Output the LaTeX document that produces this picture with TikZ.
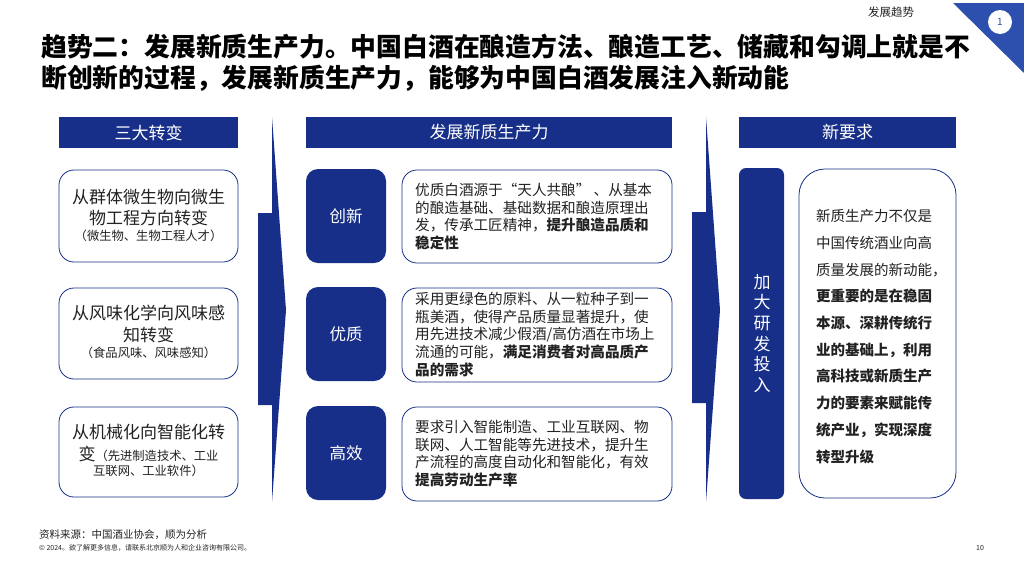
\documentclass[tikz,border=0pt]{standalone}
\usepackage{fontspec}
\setmainfont{Noto Sans CJK SC}
\definecolor{navy}{HTML}{172F88}
\definecolor{tri}{HTML}{2D4FAD}
\definecolor{txt}{HTML}{222222}
\tikzset{
  hdr/.style={fill=navy, text=white, minimum height=31pt, inner sep=0pt, font=\fontsize{17}{20}\selectfont},
  wbox/.style={draw=navy, line width=0.8pt, fill=white, rounded corners=15pt, inner sep=0pt},
  nbox/.style={fill=navy, rounded corners=12pt, text=white, inner sep=0pt, font=\fontsize{16.5}{20}\selectfont},
  big/.style={text=txt, inner sep=0pt, font=\fontsize{17}{20}\selectfont},
  small/.style={text=txt, inner sep=0pt, font=\fontsize{12.3}{15}\selectfont},
  para/.style={text=txt, inner sep=0pt, anchor=west, align=left, font=\fontsize{14.6}{17.7}\selectfont},
  flow/.style={fill=navy, draw=none}
}
\begin{document}
\begin{tikzpicture}[x=1pt,y=-1pt]
\useasboundingbox (0,0) rectangle (1024,576);
% top-right badge
\fill[tri] (953,3) -- (1024,3) -- (1024,73) -- cycle;
\node[circle, fill=white, minimum size=24pt, inner sep=0pt, text=tri, font=\fontsize{10}{11}\selectfont] (badge) at (1000,22) {1};
\node[text=txt, inner sep=0pt, font=\fontsize{11.5}{13}\selectfont] (sec) at (891,12) {发展趋势};
% title
\node[anchor=west, inner sep=0pt, align=left, font=\bfseries\fontsize{25.8}{31}\selectfont] (title) at (41,62.5)
  {趋势二：发展新质生产力。中国白酒在酿造方法、酿造工艺、储藏和勾调上就是不\\断创新的过程，发展新质生产力，能够为中国白酒发展注入新动能};
% flow arrows
\fill[flow] (258,213) -- (272,213) -- (272,117) -- (286,310) -- (272,502) -- (272,405) -- (258,405) -- cycle;
\fill[flow] (692,212) -- (706,212) -- (706,117) -- (720,310) -- (706,502) -- (706,403) -- (692,403) -- cycle;
% column 1
\node[hdr, minimum width=179pt] (h1) at (148.5,132.5) {三大转变};
\node[wbox, minimum width=179pt, minimum height=92pt] (a1) at (148.5,216) {};
\node[big] (a1l1) at (148.5,197) {从群体微生物向微生};
\node[big] (a1l2) at (148.5,218) {物工程方向转变};
\node[small] (a1l3) at (148.5,236) {（微生物、生物工程人才）};
\node[wbox, minimum width=179pt, minimum height=91pt] (a2) at (148.5,333.5) {};
\node[big] (a2l1) at (148.5,313) {从风味化学向风味感};
\node[big] (a2l2) at (148.5,335) {知转变};
\node[small] (a2l3) at (148.5,353) {（食品风味、风味感知）};
\node[wbox, minimum width=179pt, minimum height=90pt] (a3) at (148.5,452) {};
\node[big] (a3l1) at (148.5,432) {从机械化向智能化转};
\node[text=txt, inner sep=0pt] (a3l2) at (148.5,454) {{\fontsize{17}{20}\selectfont 变}{\fontsize{12.3}{15}\selectfont （先进制造技术、工业}};
\node[small] (a3l3) at (148.5,471) {互联网、工业软件）};
% column 2
\node[hdr, minimum width=366pt] (h2) at (489,132.5) {发展新质生产力};
\node[nbox, minimum width=80pt, minimum height=94pt] (b1) at (346,216) {创新};
\node[nbox, minimum width=80pt, minimum height=94pt] (b2) at (346,334) {优质};
\node[nbox, minimum width=80pt, minimum height=94pt] (b3) at (346,453) {高效};
\node[wbox, minimum width=270pt, minimum height=93pt] (c1) at (537,216.5) {};
\node[wbox, minimum width=270pt, minimum height=94pt] (c2) at (537,335) {};
\node[wbox, minimum width=270pt, minimum height=94pt] (c3) at (537,454) {};
\node[para] (c1t) at (415,216.5) {优质白酒源于“天人共酿” 、从基本\\的酿造基础、基础数据和酿造原理出\\发，传承工匠精神，\textbf{提升酿造品质和}\\\textbf{稳定性}};
\node[para] (c2t) at (415,334.5) {采用更绿色的原料、从一粒种子到一\\瓶美酒，使得产品质量显著提升，使\\用先进技术减少假酒/高仿酒在市场上\\流通的可能，\textbf{满足消费者对高品质产}\\\textbf{品的需求}};
\node[para] (c3t) at (415,453.5) {要求引入智能制造、工业互联网、物\\联网、人工智能等先进技术，提升生\\产流程的高度自动化和智能化，有效\\\textbf{提高劳动生产率}};
% column 3
\node[hdr, minimum width=217pt] (h3) at (847.5,132.5) {新要求};
\node[fill=navy, rounded corners=7pt, minimum width=45pt, minimum height=331pt, inner sep=0pt] (d1) at (761.5,333.5) {};
\node[text=white, inner sep=0pt, align=center, font=\fontsize{17}{20.7}\selectfont] (d1t) at (762,333.5) {加\\大\\研\\发\\投\\入};
\node[wbox, rounded corners=26pt, minimum width=157pt, minimum height=329pt] (e1) at (877.5,333.5) {};
\node[para, font=\fontsize{14.5}{26.7}\selectfont] (e1t) at (816,336.5) {新质生产力不仅是\\中国传统酒业向高\\质量发展的新动能，\\\textbf{更重要的是在稳固}\\\textbf{本源、深耕传统行}\\\textbf{业的基础上，利用}\\\textbf{高科技或新质生产}\\\textbf{力的要素来赋能传}\\\textbf{统产业，实现深度}\\\textbf{转型升级}};
% footer
\node[anchor=west, inner sep=0pt, text=txt, font=\fontsize{10.5}{12}\selectfont] (src) at (39,535) {资料来源：中国酒业协会，顺为分析};
\node[anchor=west, inner sep=0pt, text=txt, font=\fontsize{7}{8}\selectfont] (copy) at (39,548) {© 2024。欲了解更多信息，请联系北京顺为人和企业咨询有限公司。};
\node[inner sep=0pt, text=txt, font=\fontsize{7}{8}\selectfont] (pg) at (980,548) {10};
\end{tikzpicture}
\end{document}
